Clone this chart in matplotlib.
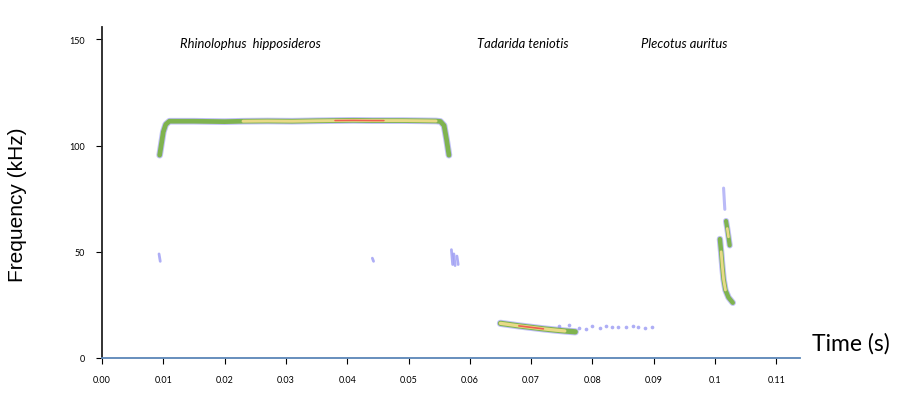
import numpy as np
import matplotlib
matplotlib.use('Agg')
import matplotlib.pyplot as plt

# call contours: time (s), frequency (kHz), intensity level (0 blue .. 3 red)
rhino_t = [0.0094, 0.0097, 0.0100, 0.0104, 0.0110, 0.0150, 0.0200, 0.0230, 0.0270,
           0.0310, 0.0350, 0.0380, 0.0410, 0.0440, 0.0460, 0.0490, 0.0520, 0.0545,
           0.0552, 0.0558, 0.0562, 0.0566]
rhino_f = [95.5, 101.0, 106.5, 110.0, 111.5, 111.5, 111.3, 111.5, 111.6,
           111.5, 111.7, 111.8, 111.9, 111.8, 111.8, 111.8, 111.7, 111.6,
           111.4, 109.5, 103.0, 95.5]
rhino_i = [1, 1, 1, 1, 1, 1, 1, 2, 2, 2, 2, 3, 3, 3, 3, 2, 2, 2, 1, 1, 1, 1]

tada_t = [0.0650, 0.0665, 0.0680, 0.0700, 0.0720, 0.0740, 0.0755, 0.0772]
tada_f = [16.3, 15.7, 15.1, 14.4, 13.7, 13.1, 12.7, 12.3]
tada_i = [2, 2, 3, 3, 3, 2, 2, 1]
tada_dots_t = [0.0745, 0.0762, 0.0778, 0.0790, 0.0800, 0.0812, 0.0822, 0.0832,
               0.0842, 0.0855, 0.0866, 0.0875, 0.0885, 0.0897]
tada_dots_f = [15.0, 15.3, 14.2, 13.8, 14.9, 14.1, 15.2, 14.4, 14.6, 14.5, 14.9, 14.7, 14.0, 14.4]

pleco1_t = [0.1008, 0.1010, 0.1012, 0.1014, 0.1017, 0.1022, 0.1029]
pleco1_f = [56.0, 50.0, 43.0, 37.0, 32.0, 28.5, 26.0]
pleco1_i = [1, 2, 2, 3, 2, 1, 1]
pleco2_t = [0.1018, 0.1020, 0.1022, 0.1024]
pleco2_f = [64.5, 61.0, 57.0, 53.0]
pleco2_i = [1, 2, 2, 1]
pleco3_t = [0.1014, 0.1015, 0.1016]
pleco3_f = [80.0, 75.0, 70.0]

# faint harmonic blips (time, freq start, freq end)
blips_t = [0.0093, 0.0570, 0.0574, 0.0579, 0.0441]
blips_f0 = [49.0, 51.0, 49.0, 48.0, 47.0]
blips_f1 = [45.5, 44.0, 43.5, 44.0, 45.5]

species = ['Rhinolophus  hipposideros', 'Tadarida teniotis', 'Plecotus auritus']
species_t = [0.0127, 0.0612, 0.0879]
species_f = [148.5, 148.5, 148.5]

x_ticks = [0.00, 0.01, 0.02, 0.03, 0.04, 0.05, 0.06, 0.07, 0.08, 0.09, 0.10, 0.11]
x_tick_labels = ['0.00', '0.01', '0.02', '0.03', '0.04', '0.05', '0.06', '0.07',
                 '0.08', '0.09', '0.1', '0.11']
y_ticks = [0, 50, 100, 150]

BLUE = '#8c8cf2'
GREEN = '#7cb346'
YELLOW = '#f4df8e'
RED = '#f0524a'


def draw_call(ax, t, f, lev, width):
    t = np.array(t)
    f = np.array(f)
    lev = np.array(lev)
    kw = dict(solid_capstyle='round', solid_joinstyle='round')
    ax.plot(t, f, color=BLUE, lw=width + 1.4, alpha=0.55, **kw)
    ax.plot(t, f, color=GREEN, lw=width, alpha=0.95, **kw)
    for level, col, frac in [(2, YELLOW, 0.62), (3, RED, 0.32)]:
        mask = lev >= level
        if mask.sum() < 2:
            continue
        ff = np.where(mask, f, np.nan)
        ax.plot(t, ff, color=col, lw=width * frac, alpha=0.9, **kw)


fig = plt.figure(figsize=(8.98, 4.14), dpi=100)
ax = fig.add_axes([0.1136, 0.133, 0.7775, 0.8])

draw_call(ax, rhino_t, rhino_f, rhino_i, 3.4)
draw_call(ax, tada_t, tada_f, tada_i, 3.8)
draw_call(ax, pleco1_t, pleco1_f, pleco1_i, 3.2)
draw_call(ax, pleco2_t, pleco2_f, pleco2_i, 3.0)
ax.plot(pleco3_t, pleco3_f, color=BLUE, lw=2.2, alpha=0.6, solid_capstyle='round')
ax.scatter(tada_dots_t, tada_dots_f, s=7, color=BLUE, alpha=0.7, lw=0)
for bt, b0, b1 in zip(blips_t, blips_f0, blips_f1):
    ax.plot([bt, bt + 0.0002], [b0, b1], color=BLUE, lw=2, alpha=0.7, solid_capstyle='round')

for name, st, sf in zip(species, species_t, species_f):
    ax.text(st, sf, name, fontsize=9.4, style='italic', family='Lato', va='center')

ax.set_xlim(0, 0.1139)
ax.set_ylim(0, 156)
ax.set_xticks(x_ticks)
ax.set_xticklabels(x_tick_labels)
ax.set_yticks(y_ticks)
ax.tick_params(labelsize=6.5, length=4, width=0.8, pad=8)
for lab in ax.get_xticklabels() + ax.get_yticklabels():
    lab.set_family('Lato')

ax.spines['top'].set_visible(False)
ax.spines['right'].set_visible(False)
ax.spines['left'].set_color('#222222')
ax.spines['left'].set_linewidth(1.3)
ax.spines['bottom'].set_color('#5a86b8')
ax.spines['bottom'].set_linewidth(1.3)

fig.text(0.020, 0.505, 'Frequency (kHz)', rotation=90, fontsize=15,
         family='Liberation Sans', ha='center', va='center')
fig.text(0.904, 0.17, 'Time (s)', fontsize=16.5, family='Lato', ha='left', va='center')

fig.savefig('out.png', dpi=100)
